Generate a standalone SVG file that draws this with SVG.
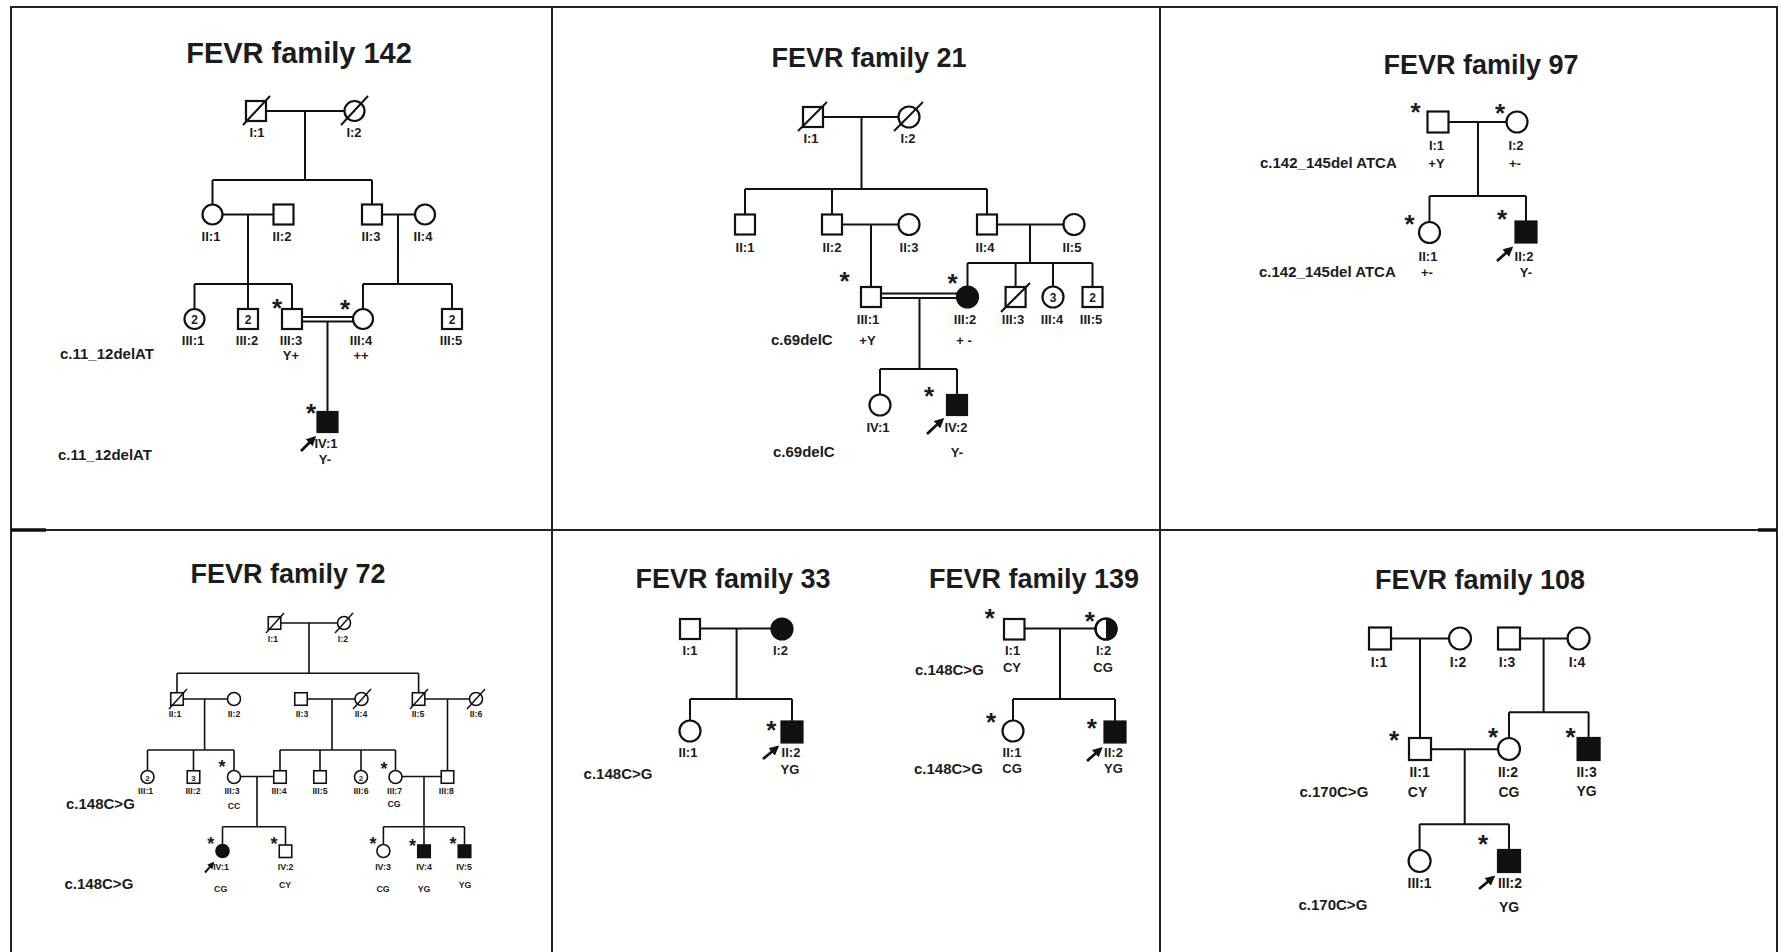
<svg xmlns="http://www.w3.org/2000/svg" width="1781" height="952" viewBox="0 0 1781 952">
<defs>
<style>
.frame{stroke:#222;stroke-width:2;fill:none}
.ln{stroke:#111;stroke-width:2;fill:none}
.ln4{stroke:#111;stroke-width:1.6;fill:none}
.sym{stroke:#111;stroke-width:2.2;fill:#fff}
.sym4{stroke:#111;stroke-width:1.6;fill:#fff}
.aff{fill:#111}
.dec{stroke:#111;stroke-width:2;fill:none}
.dec4{stroke:#111;stroke-width:1.5;fill:none}
text{font-family:"Liberation Sans",Arial,Helvetica,sans-serif;font-weight:bold;fill:#1c1c1c}
.title{font-size:27px;text-anchor:middle}
.lab{font-size:13px;text-anchor:middle}
.lab6{font-size:14px;text-anchor:middle}
.lab4{font-size:8.8px;text-anchor:middle}
.mut{font-size:15px}
.num{font-size:12px;text-anchor:middle}
.num4{font-size:8px;text-anchor:middle}
.ast{font-size:26px;text-anchor:middle}
.ast4{font-size:18px;text-anchor:middle}
.arr{stroke:#111;stroke-width:2.8;fill:none;marker-end:url(#ah)}
.arr4{stroke:#111;stroke-width:2;fill:none;marker-end:url(#ah4)}
</style>
<marker id="ah" markerWidth="10" markerHeight="10" refX="7" refY="5" orient="auto" markerUnits="userSpaceOnUse"><path d="M0,0 L10,5 L0,10 Z" fill="#111"/></marker>
<marker id="ah4" markerWidth="7" markerHeight="7" refX="5" refY="3.5" orient="auto" markerUnits="userSpaceOnUse"><path d="M0,0 L7,3.5 L0,7 Z" fill="#111"/></marker>
</defs>
<rect width="1781" height="952" fill="#fff"/>
<g id="frame">
<line class="frame" x1="10" y1="7" x2="1777" y2="7"/>
<line class="frame" x1="11" y1="6" x2="11" y2="952"/>
<line class="frame" x1="552" y1="6" x2="552" y2="952"/>
<line class="frame" x1="1160" y1="6" x2="1160" y2="952"/>
<line class="frame" x1="1777" y1="6" x2="1777" y2="952"/>
<line class="frame" x1="10" y1="530" x2="1777" y2="530"/>
<line stroke="#111" stroke-width="3.5" x1="11" y1="530" x2="46" y2="530"/>
<line stroke="#111" stroke-width="3.5" x1="1758" y1="530" x2="1777" y2="530"/>
</g>

<!-- ===== Titles and mutation labels ===== -->
<g id="titles">
<text class="title" x="299" y="63" style="font-size:29px">FEVR family 142</text>
<text class="title" x="869" y="67">FEVR family 21</text>
<text class="title" x="1481" y="74">FEVR family 97</text>
<text class="title" x="288" y="583">FEVR family 72</text>
<text class="title" x="733" y="588">FEVR family 33</text>
<text class="title" x="1034" y="588">FEVR family 139</text>
<text class="title" x="1480" y="589">FEVR family 108</text>
</g>
<g id="mutations">
<text class="mut" x="60" y="359">c.11_12delAT</text>
<text class="mut" x="58" y="460">c.11_12delAT</text>
<text class="mut" x="771" y="345">c.69delC</text>
<text class="mut" x="773" y="457">c.69delC</text>
<text class="mut" x="1260" y="167.5">c.142_145del ATCA</text>
<text class="mut" x="1259" y="277">c.142_145del ATCA</text>
<text class="mut" x="66" y="809">c.148C&gt;G</text>
<text class="mut" x="64.5" y="889">c.148C&gt;G</text>
<text class="mut" x="583.6" y="779.3">c.148C&gt;G</text>
<text class="mut" x="915" y="675">c.148C&gt;G</text>
<text class="mut" x="914" y="774.3">c.148C&gt;G</text>
<text class="mut" x="1299.5" y="797.3">c.170C&gt;G</text>
<text class="mut" x="1298.5" y="910">c.170C&gt;G</text>
</g>

<!-- ===== Connectors ===== -->
<g id="connectors">
<!-- family 142 -->
<path class="ln" d="M266,111 H344.5 M305,111 V180 M212.5,180 H372 M212.5,180 V204.5 M372,180 V204.5"/>
<path class="ln" d="M222.5,214.5 H273.5 M248,214.5 V284 M194.5,284 H292 M194.5,284 V309 M248,284 V309 M292,284 V309"/>
<path class="ln" d="M382,214.5 H415 M398,214.5 V284 M363,284 H452 M363,284 V309 M452,284 V309"/>
<path class="ln" stroke-width="1.6" d="M302,317 H353 M302,321.5 H353"/>
<path class="ln" d="M327.5,321.5 V412"/>
<!-- family 21 -->
<path class="ln" d="M823,117 H898.5 M861.5,117 V189 M745,189 H987 M745,189 V214.5 M832,189 V214.5 M987,189 V214.5"/>
<path class="ln" d="M842,224.5 H898.5 M871,224.5 V287"/>
<path class="ln" d="M997,224.5 H1063.5 M1030,224.5 V263 M967.5,263 H1092.5 M967.5,263 V286.5 M1015.6,263 V287 M1053,263 V286.5 M1092.5,263 V287"/>
<path class="ln" stroke-width="1.6" d="M881,293.5 H957 M881,298 H957"/>
<path class="ln" d="M919.5,298 V369 M880,369 H957 M880,369 V394.5 M957,369 V395"/>
<!-- family 97 -->
<path class="ln" d="M1448.5,122 H1506.5 M1478,122 V196 M1429.5,196 H1526 M1429.5,196 V222 M1526,196 V221.5"/>
<!-- family 72 -->
<path class="ln4" d="M280.75,623 H337.5 M309,623 V673.3 M177,673.3 H418.6 M177,673.3 V692.5 M418.6,673.3 V692.5"/>
<path class="ln4" d="M183.5,699 H227.5 M204.6,699 V750 M147.5,750 H234 M147.5,750 V770.5 M193.5,750 V770.5 M234,750 V770.5"/>
<path class="ln4" d="M307.5,699 H355 M332,699 V750 M280,750 H395.5 M280,750 V770.5 M320,750 V770.5 M361,750 V770.5 M395.5,750 V770.5"/>
<path class="ln4" d="M425,699 H469.5 M447.5,699 V770.5"/>
<path class="ln4" d="M240.5,776.5 H273.5 M257,776.5 V826.7 M222.5,826.7 H285.5 M222.5,826.7 V844.5 M285.5,826.7 V845"/>
<path class="ln4" d="M402,776.5 H441 M424,776.5 V826.7 M383.4,826.7 H464.5 M383.4,826.7 V844.5 M424,826.7 V845 M464.5,826.7 V845"/>
<!-- family 33 -->
<path class="ln" d="M700,628.5 H771.5 M736.6,628.5 V699 M690,699 H792 M690,699 V720.5 M792,699 V721.5"/>
<!-- family 139 -->
<path class="ln" d="M1024.3,628.5 H1095.5 M1060,628.5 V699 M1013,699 H1115 M1013,699 V720.5 M1115,699 V721.5"/>
<!-- family 108 -->
<path class="ln" d="M1391,638.5 H1449 M1420,638.5 V738 M1520,638.5 H1567.6 M1543.6,638.5 V712.3 M1509,712.3 H1588.6 M1509,712.3 V738 M1588.6,712.3 V738"/>
<path class="ln" d="M1431,749.3 H1498 M1464.7,749.3 V824.3 M1419.6,824.3 H1509 M1419.6,824.3 V850 M1509,824.3 V850"/>
</g>

<!-- ===== FEVR family 142 ===== -->
<g id="f142-I1"><rect class="sym" x="246" y="101" width="20" height="20"/><line class="dec" x1="243" y1="125" x2="270" y2="96"/><text class="lab" x="257" y="137">I:1</text></g>
<g id="f142-I2"><circle class="sym" cx="354.5" cy="111" r="10"/><line class="dec" x1="341" y1="125" x2="368" y2="96"/><text class="lab" x="354" y="137">I:2</text></g>
<g id="f142-II1"><circle class="sym" cx="212.5" cy="214.5" r="10"/><text class="lab" x="211" y="241">II:1</text></g>
<g id="f142-II2"><rect class="sym" x="273.5" y="204.5" width="20" height="20"/><text class="lab" x="282" y="241">II:2</text></g>
<g id="f142-II3"><rect class="sym" x="362" y="204.5" width="20" height="20"/><text class="lab" x="371" y="241">II:3</text></g>
<g id="f142-II4"><circle class="sym" cx="425" cy="214.5" r="10"/><text class="lab" x="423" y="241">II:4</text></g>
<g id="f142-III1"><circle class="sym" cx="194.5" cy="319" r="10"/><text class="num" x="194.5" y="324">2</text><text class="lab" x="193" y="345">III:1</text></g>
<g id="f142-III2"><rect class="sym" x="238" y="309" width="20" height="20"/><text class="num" x="248" y="324">2</text><text class="lab" x="247" y="345">III:2</text></g>
<g id="f142-III3"><rect class="sym" x="282" y="309" width="20" height="20"/><text class="ast" x="277" y="317">*</text><text class="lab" x="291" y="345">III:3</text><text class="lab" x="291" y="360">Y+</text></g>
<g id="f142-III4"><circle class="sym" cx="363" cy="319" r="10"/><text class="ast" x="345" y="318">*</text><text class="lab" x="361" y="345">III:4</text><text class="lab" x="361" y="360">++</text></g>
<g id="f142-III5"><rect class="sym" x="442" y="309" width="20" height="20"/><text class="num" x="452" y="324">2</text><text class="lab" x="451" y="345">III:5</text></g>
<g id="f142-IV1"><rect class="sym aff" x="317.5" y="412" width="20" height="20"/><text class="ast" x="311" y="422">*</text><line class="arr" x1="301" y1="451" x2="314" y2="438"/><text class="lab" x="326" y="448">IV:1</text><text class="lab" x="325" y="464">Y-</text></g>

<!-- ===== FEVR family 21 ===== -->
<g id="f21-I1"><rect class="sym" x="803" y="107" width="20" height="20"/><line class="dec" x1="798" y1="131" x2="827" y2="102"/><text class="lab" x="811" y="143">I:1</text></g>
<g id="f21-I2"><circle class="sym" cx="909" cy="117" r="10.5"/><line class="dec" x1="894" y1="131" x2="923" y2="102"/><text class="lab" x="908" y="143">I:2</text></g>
<g id="f21-II1"><rect class="sym" x="735" y="214.5" width="20" height="20"/><text class="lab" x="745" y="252">II:1</text></g>
<g id="f21-II2"><rect class="sym" x="822" y="214.5" width="20" height="20"/><text class="lab" x="832" y="252">II:2</text></g>
<g id="f21-II3"><circle class="sym" cx="909" cy="224.5" r="10.5"/><text class="lab" x="909" y="252">II:3</text></g>
<g id="f21-II4"><rect class="sym" x="977" y="214.5" width="20" height="20"/><text class="lab" x="985" y="252">II:4</text></g>
<g id="f21-II5"><circle class="sym" cx="1074" cy="224.5" r="10.5"/><text class="lab" x="1072" y="252">II:5</text></g>
<g id="f21-III1"><rect class="sym" x="861" y="287" width="20" height="20"/><text class="ast" x="844.6" y="290">*</text><text class="lab" x="868" y="324">III:1</text><text class="lab" x="867.5" y="345">+Y</text></g>
<g id="f21-III2"><circle class="sym aff" cx="967.5" cy="297" r="10.5"/><text class="ast" x="952.5" y="292">*</text><text class="lab" x="965" y="324">III:2</text><text class="lab" x="964" y="345">+ -</text></g>
<g id="f21-III3"><rect class="sym" x="1005.6" y="287" width="20" height="20"/><line class="dec" x1="1001" y1="312" x2="1030" y2="283"/><text class="lab" x="1013" y="324">III:3</text></g>
<g id="f21-III4"><circle class="sym" cx="1053" cy="297" r="10.5"/><text class="num" x="1053" y="302">3</text><text class="lab" x="1052" y="324">III:4</text></g>
<g id="f21-III5"><rect class="sym" x="1082.5" y="287" width="20" height="20"/><text class="num" x="1092.5" y="302">2</text><text class="lab" x="1091" y="324">III:5</text></g>
<g id="f21-IV1"><circle class="sym" cx="880" cy="405" r="10.5"/><text class="lab" x="878" y="431.7">IV:1</text></g>
<g id="f21-IV2"><rect class="sym aff" x="947" y="395" width="20" height="20"/><text class="ast" x="929" y="405">*</text><line class="arr" x1="927" y1="434" x2="942" y2="420"/><text class="lab" x="956" y="431.7">IV:2</text><text class="lab" x="957" y="457">Y-</text></g>

<!-- ===== FEVR family 97 ===== -->
<g id="f97-I1"><rect class="sym" x="1427.5" y="111.5" width="21" height="21"/><text class="ast" x="1415.6" y="121">*</text><text class="lab" x="1436.5" y="150">I:1</text><text class="lab" x="1436.5" y="167.5">+Y</text></g>
<g id="f97-I2"><circle class="sym" cx="1517" cy="122" r="10.5"/><text class="ast" x="1500" y="121.7">*</text><text class="lab" x="1516" y="150">I:2</text><text class="lab" x="1515" y="167.5">+-</text></g>
<g id="f97-II1"><circle class="sym" cx="1429.5" cy="232.5" r="10.5"/><text class="ast" x="1409.6" y="233">*</text><text class="lab" x="1428" y="260.7">II:1</text><text class="lab" x="1427" y="277">+-</text></g>
<g id="f97-II2"><rect class="sym aff" x="1515.5" y="221.5" width="21" height="21"/><text class="ast" x="1502" y="228">*</text><line class="arr" x1="1497" y1="261" x2="1511" y2="248.5"/><text class="lab" x="1524" y="260.7">II:2</text><text class="lab" x="1526" y="277">Y-</text></g>

<!-- ===== FEVR family 72 ===== -->
<g id="f72-I1"><rect class="sym4" x="268.25" y="616.75" width="12.5" height="12.5"/><line class="dec4" x1="266" y1="633" x2="284" y2="613"/><text class="lab4" x="273" y="641.7">I:1</text></g>
<g id="f72-I2"><circle class="sym4" cx="344" cy="623" r="6.5"/><line class="dec4" x1="335" y1="633" x2="353" y2="613"/><text class="lab4" x="343" y="641.7">I:2</text></g>
<g id="f72-II1"><rect class="sym4" x="170.75" y="692.75" width="12.5" height="12.5"/><line class="dec4" x1="169" y1="709" x2="187" y2="689"/><text class="lab4" x="175" y="717">II:1</text></g>
<g id="f72-II2"><circle class="sym4" cx="234" cy="699" r="6.5"/><text class="lab4" x="234" y="717">II:2</text></g>
<g id="f72-II3"><rect class="sym4" x="294.75" y="692.75" width="12.5" height="12.5"/><text class="lab4" x="302" y="717">II:3</text></g>
<g id="f72-II4"><circle class="sym4" cx="361.5" cy="699" r="6.5"/><line class="dec4" x1="353" y1="709" x2="371" y2="689"/><text class="lab4" x="361" y="717">II:4</text></g>
<g id="f72-II5"><rect class="sym4" x="412.35" y="692.75" width="12.5" height="12.5"/><line class="dec4" x1="410" y1="709" x2="428" y2="689"/><text class="lab4" x="418" y="717">II:5</text></g>
<g id="f72-II6"><circle class="sym4" cx="476" cy="699" r="6.5"/><line class="dec4" x1="467" y1="709" x2="485" y2="689"/><text class="lab4" x="476" y="717">II:6</text></g>
<g id="f72-III1"><circle class="sym4" cx="147.5" cy="777" r="6.5"/><text class="num4" x="147.5" y="780.5">2</text><text class="lab4" x="145.7" y="794">III:1</text></g>
<g id="f72-III2"><rect class="sym4" x="187.25" y="770.75" width="12.5" height="12.5"/><text class="num4" x="193.5" y="780.5">3</text><text class="lab4" x="193" y="794">III:2</text></g>
<g id="f72-III3"><circle class="sym4" cx="234" cy="777" r="6.5"/><text class="ast4" x="222" y="773">*</text><text class="lab4" x="232" y="794">III:3</text><text class="lab4" x="234" y="809.3">CC</text></g>
<g id="f72-III4"><rect class="sym4" x="273.75" y="770.75" width="12.5" height="12.5"/><text class="lab4" x="279" y="794">III:4</text></g>
<g id="f72-III5"><rect class="sym4" x="313.75" y="770.75" width="12.5" height="12.5"/><text class="lab4" x="320" y="794">III:5</text></g>
<g id="f72-III6"><circle class="sym4" cx="361" cy="777" r="6.5"/><text class="num4" x="361" y="780.5">2</text><text class="lab4" x="361" y="794">III:6</text></g>
<g id="f72-III7"><circle class="sym4" cx="395.5" cy="777" r="6.5"/><text class="ast4" x="384" y="775">*</text><text class="lab4" x="394.6" y="794">III:7</text><text class="lab4" x="394" y="807">CG</text></g>
<g id="f72-III8"><rect class="sym4" x="441.25" y="770.75" width="12.5" height="12.5"/><text class="lab4" x="446.4" y="794">III:8</text></g>
<g id="f72-IV1"><circle class="sym4 aff" cx="222.5" cy="851" r="6.5"/><text class="ast4" x="210.7" y="850">*</text><line class="arr4" x1="205" y1="872.5" x2="213" y2="863.3"/><text class="lab4" x="221" y="870">IV:1</text><text class="lab4" x="220.7" y="891.7">CG</text></g>
<g id="f72-IV2"><rect class="sym4" x="279.25" y="845" width="12.5" height="12.5"/><text class="ast4" x="274" y="850">*</text><text class="lab4" x="285.7" y="870">IV:2</text><text class="lab4" x="285" y="888">CY</text></g>
<g id="f72-IV3"><circle class="sym4" cx="383.4" cy="851" r="6.5"/><text class="ast4" x="373" y="850">*</text><text class="lab4" x="383" y="870">IV:3</text><text class="lab4" x="383" y="891.7">CG</text></g>
<g id="f72-IV4"><rect class="sym4 aff" x="417.75" y="845" width="12.5" height="12.5"/><text class="ast4" x="412.5" y="851.7">*</text><text class="lab4" x="424" y="870">IV:4</text><text class="lab4" x="424" y="891.7">YG</text></g>
<g id="f72-IV5"><rect class="sym4 aff" x="458.25" y="845" width="12.5" height="12.5"/><text class="ast4" x="453" y="850">*</text><text class="lab4" x="464" y="870">IV:5</text><text class="lab4" x="465" y="888">YG</text></g>

<!-- ===== FEVR family 33 ===== -->
<g id="f33-I1"><rect class="sym" x="680" y="619" width="20" height="20"/><text class="lab" x="690" y="655">I:1</text></g>
<g id="f33-I2"><circle class="sym aff" cx="782" cy="629" r="10.5"/><text class="lab" x="780.5" y="655">I:2</text></g>
<g id="f33-II1"><circle class="sym" cx="690" cy="731" r="10.5"/><text class="lab" x="688" y="757.3">II:1</text></g>
<g id="f33-II2"><rect class="sym aff" x="781.5" y="721.5" width="21" height="21"/><text class="ast" x="771.4" y="739">*</text><line class="arr" x1="763" y1="759" x2="777" y2="747.5"/><text class="lab" x="791" y="757.3">II:2</text><text class="lab" x="790" y="774.3">YG</text></g>

<!-- ===== FEVR family 139 ===== -->
<g id="f139-I1"><rect class="sym" x="1004" y="619" width="20.5" height="20.5"/><text class="ast" x="989.7" y="626.7">*</text><text class="lab" x="1012.6" y="655">I:1</text><text class="lab" x="1012" y="671.7">CY</text></g>
<g id="f139-I2"><circle class="sym" cx="1106" cy="629" r="10.5"/><path class="aff" d="M1106,618.5 A10.5,10.5 0 0 1 1106,639.5 Z"/><circle cx="1106" cy="629" r="10.5" fill="none" stroke="#111" stroke-width="2.2"/><text class="ast" x="1089.7" y="630">*</text><text class="lab" x="1103.6" y="655">I:2</text><text class="lab" x="1103" y="671.7">CG</text></g>
<g id="f139-II1"><circle class="sym" cx="1013" cy="731" r="10.5"/><text class="ast" x="991" y="731">*</text><text class="lab" x="1012" y="757.3">II:1</text><text class="lab" x="1012" y="773.3">CG</text></g>
<g id="f139-II2"><rect class="sym aff" x="1104.5" y="721.5" width="21" height="21"/><text class="ast" x="1091.7" y="736.7">*</text><line class="arr" x1="1087" y1="761" x2="1100.5" y2="749"/><text class="lab" x="1113.5" y="757.3">II:2</text><text class="lab" x="1113.5" y="773">YG</text></g>

<!-- ===== FEVR family 108 ===== -->
<g id="f108-I1"><rect class="sym" x="1369" y="627.5" width="22" height="22"/><text class="lab6" x="1379" y="666.7">I:1</text></g>
<g id="f108-I2"><circle class="sym" cx="1460" cy="638.5" r="11"/><text class="lab6" x="1458" y="666.7">I:2</text></g>
<g id="f108-I3"><rect class="sym" x="1498" y="627.5" width="22" height="22"/><text class="lab6" x="1507" y="666.7">I:3</text></g>
<g id="f108-I4"><circle class="sym" cx="1578.6" cy="638.5" r="11"/><text class="lab6" x="1577" y="666.7">I:4</text></g>
<g id="f108-II1"><rect class="sym" x="1409" y="738" width="22" height="22"/><text class="ast" x="1394" y="749">*</text><text class="lab6" x="1419.6" y="776.7">II:1</text><text class="lab6" x="1417.6" y="797.3">CY</text></g>
<g id="f108-II2"><circle class="sym" cx="1509" cy="749" r="11"/><text class="ast" x="1493" y="745.7">*</text><text class="lab6" x="1508" y="776.7">II:2</text><text class="lab6" x="1509" y="797.3">CG</text></g>
<g id="f108-II3"><rect class="sym aff" x="1577.6" y="738" width="22" height="22"/><text class="ast" x="1570.5" y="745.7">*</text><text class="lab6" x="1586.6" y="776.7">II:3</text><text class="lab6" x="1586.6" y="796">YG</text></g>
<g id="f108-III1"><circle class="sym" cx="1419.6" cy="861" r="11"/><text class="lab6" x="1419.6" y="888.3">III:1</text></g>
<g id="f108-III2"><rect class="sym aff" x="1498" y="850" width="22" height="22"/><text class="ast" x="1483" y="853.3">*</text><line class="arr" x1="1479" y1="889" x2="1493" y2="877.5"/><text class="lab6" x="1510" y="888.3">III:2</text><text class="lab6" x="1509" y="911.7">YG</text></g>
</svg>
